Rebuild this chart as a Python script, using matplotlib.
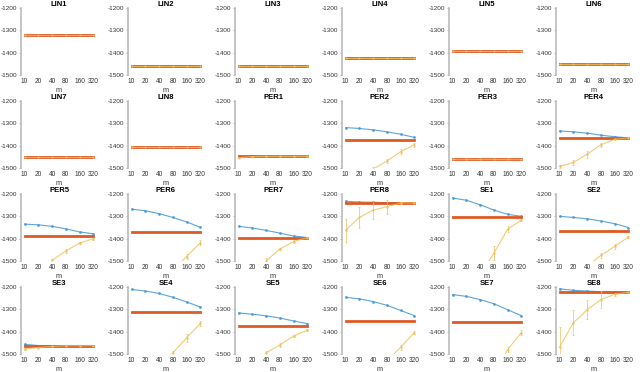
import numpy as np
import matplotlib.pyplot as plt

plt.rcParams['font.family'] = ['Liberation Sans', 'DejaVu Sans']
plt.rcParams['axes.unicode_minus'] = False

m_labels = ['10', '20', '40', '80', '160', '320']

titles = ['LIN1', 'LIN2', 'LIN3', 'LIN4', 'LIN5', 'LIN6',
          'LIN7', 'LIN8', 'PER1', 'PER2', 'PER3', 'PER4',
          'PER5', 'PER6', 'PER7', 'PER8', 'SE1', 'SE2',
          'SE3', 'SE4', 'SE5', 'SE6', 'SE7', 'SE8']

# reference (constant) level per panel
orange = [-1320, -1458, -1460, -1422, -1392, -1452,
          -1450, -1406, -1448, -1375, -1460, -1365,
          -1387, -1370, -1395, -1240, -1302, -1365,
          -1463, -1311, -1375, -1351, -1355, -1224]

blue = [
    [-1320] * 6, [-1458] * 6, [-1460] * 6, [-1422] * 6, [-1392] * 6, [-1452] * 6,
    [-1450] * 6, [-1406] * 6, [-1448] * 6,
    [-1319, -1323, -1329, -1338, -1349, -1363],
    [-1460] * 6,
    [-1334, -1338, -1344, -1353, -1360, -1365],
    [-1335, -1338, -1345, -1356, -1370, -1378],
    [-1268, -1275, -1288, -1305, -1325, -1349],
    [-1345, -1352, -1363, -1375, -1388, -1395],
    [-1233, -1236, -1237, -1239, -1240, -1240],
    [-1218, -1228, -1248, -1272, -1291, -1300],
    [-1300, -1305, -1311, -1321, -1333, -1350],
    [-1457, -1462, -1462, -1462, -1462, -1462],
    [-1211, -1218, -1229, -1246, -1267, -1290],
    [-1316, -1322, -1329, -1339, -1352, -1364],
    [-1246, -1253, -1265, -1282, -1305, -1328],
    [-1234, -1242, -1256, -1275, -1302, -1328],
    [-1208, -1215, -1218, -1221, -1223, -1223],
]

yellow = [
    [-1320] * 6, [-1458] * 6, [-1460] * 6, [-1422] * 6, [-1392] * 6, [-1452] * 6,
    [-1450] * 6, [-1406] * 6,
    [-1454, -1449, -1448, -1448, -1448, -1448],
    [-1640, -1580, -1505, -1469, -1427, -1396],
    [-1460] * 6,
    [-1493, -1475, -1438, -1396, -1372, -1365],
    [-1640, -1570, -1497, -1455, -1420, -1400],
    [-1800, -1720, -1630, -1540, -1480, -1418],
    [-1700, -1600, -1500, -1446, -1413, -1395],
    [-1362, -1305, -1272, -1257, -1240, -1240],
    [-1750, -1660, -1562, -1465, -1357, -1317],
    [-1620, -1570, -1523, -1475, -1435, -1392],
    [-1477, -1471, -1466, -1463, -1463, -1463],
    [-1700, -1640, -1570, -1495, -1427, -1363],
    [-1620, -1560, -1495, -1459, -1420, -1393],
    [-1750, -1680, -1610, -1531, -1470, -1404],
    [-1850, -1760, -1680, -1600, -1480, -1404],
    [-1470, -1360, -1302, -1256, -1233, -1224],
]

yellow_err = [
    [0] * 6, [0] * 6, [0] * 6, [0] * 6, [0] * 6, [0] * 6,
    [0] * 6, [0] * 6,
    [3, 2, 1, 1, 1, 1],
    [10, 10, 10, 8, 10, 8],
    [0] * 6,
    [8, 10, 15, 8, 4, 2],
    [10, 10, 8, 10, 6, 4],
    [12, 12, 12, 12, 12, 10],
    [10, 10, 12, 6, 5, 3],
    [52, 45, 40, 32, 4, 2],
    [30, 30, 30, 30, 12, 5],
    [10, 10, 10, 10, 12, 6],
    [4, 3, 2, 1, 1, 1],
    [12, 12, 12, 10, 18, 12],
    [8, 8, 8, 10, 6, 5],
    [12, 12, 12, 12, 12, 8],
    [12, 12, 12, 12, 12, 10],
    [90, 55, 42, 36, 8, 3],
]

c_blue = '#4C9BD6'
c_orange = '#DE5A22'
c_yellow = '#F2BE55'

fig = plt.figure(figsize=(6.4, 3.72), dpi=100)
W, H = 640.0, 372.0
x = np.arange(1, 7)

for k in range(24):
    r, c = divmod(k, 6)
    left = 20.5 + 107 * c
    bottom = 75 + 93 * r
    ax = fig.add_axes([left / W, 1 - bottom / H, 77 / W, 67 / H])

    ax.plot(x, blue[k], '-', color=c_blue, lw=0.8, marker='.', ms=2.0, alpha=0.9)
    ax.plot(x, [orange[k]] * 6, '-', color=c_orange, lw=2.0)
    ax.errorbar(x, yellow[k], yerr=yellow_err[k], color=c_yellow, lw=0.8,
                elinewidth=0.6, capsize=1, capthick=0.6, marker='.', ms=1.5,
                alpha=0.8)

    ax.set_xlim(0.7, 6.3)
    ax.set_ylim(-1500, -1200)
    ax.set_yticks([-1500, -1400, -1300, -1200])
    ax.set_xticks(x)
    ax.set_xticklabels(m_labels)
    ax.tick_params(axis='x', length=0, pad=2.5, labelsize=4.7, labelcolor='#333333')
    ax.tick_params(axis='y', length=1.3, width=0.5, pad=1.0, labelsize=4.6,
                   labelcolor='#333333', color='#999999', direction='out')
    for s in ['top', 'right', 'bottom']:
        ax.spines[s].set_visible(False)
    ax.spines['left'].set_color('#BBBBBB')
    ax.spines['left'].set_linewidth(1.2)
    ax.set_xlabel('m', fontsize=5.2, labelpad=0.8, color='#333333')
    ax.set_title(titles[k], fontsize=5.5, fontweight='bold', pad=1.5)

fig.savefig('out.png', dpi=100)
